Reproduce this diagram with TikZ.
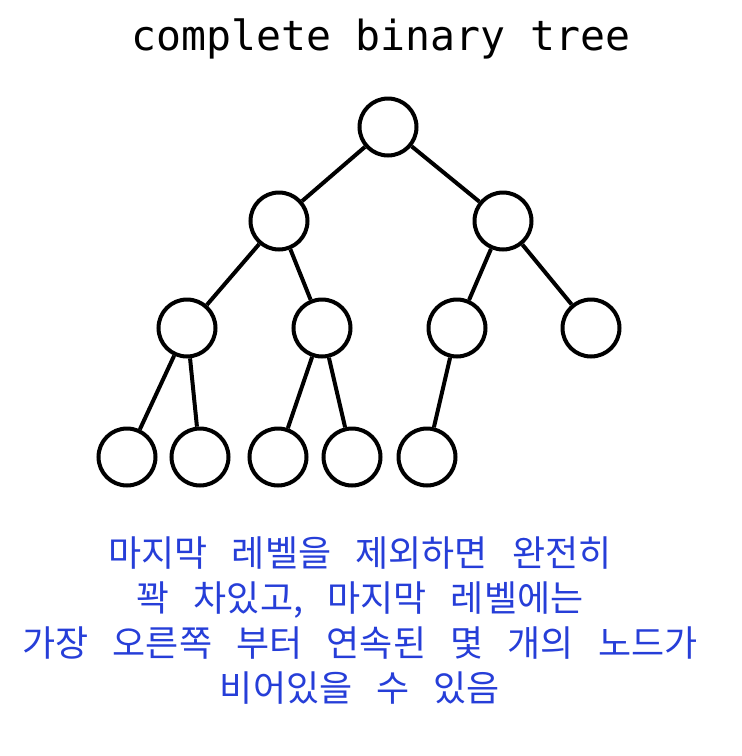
\documentclass[tikz,border=0pt]{standalone}
\usepackage{fontspec}
\setmonofont{DejaVu Sans Mono}
\newfontfamily\krfont[WordSpace=3]{Noto Sans CJK KR}
\definecolor{noteblue}{RGB}{38,62,216}
\begin{document}
\begin{tikzpicture}[x=1pt,y=-1pt,
    vertex/.style={draw,circle,line width=4pt,minimum size=57pt,inner sep=0pt}]
      \useasboundingbox (0,0) rectangle (742,756);
      \node (title) at (381,39) {\fontsize{41.5}{46}\selectfont\ttfamily complete binary tree};
      \draw
        (388,127) node[vertex] (0){}
        (279,221) node[vertex] (1){}
        (503,221) node[vertex] (2){}
        (187,328) node[vertex] (3){}
        (322,328) node[vertex] (4){}
        (457,328) node[vertex] (5){}
        (591,328) node[vertex] (6){}
        (127,457) node[vertex] (7){}
        (200,457) node[vertex] (8){}
        (278,457) node[vertex] (9){}
        (352,457) node[vertex] (10){}
        (427,457) node[vertex] (11){};
      \begin{scope}[-,line width=4pt]
        \draw (0) to (1);
        \draw (0) to (2);
        \draw (1) to (3);
        \draw (1) to (4);
        \draw (2) to (5);
        \draw (2) to (6);
        \draw (3) to (7);
        \draw (3) to (8);
        \draw (4) to (9);
        \draw (4) to (10);
        \draw (5) to (11);
      \end{scope}
      \node[text=noteblue,align=center,font=\krfont\fontsize{36}{45}\selectfont] (note) at (360,621)
        {마지막 레벨을 제외하면 완전히\\꽉 차있고, 마지막 레벨에는\\가장 오른쪽 부터 연속된 몇 개의 노드가\\비어있을 수 있음};
    \end{tikzpicture}
\end{document}
